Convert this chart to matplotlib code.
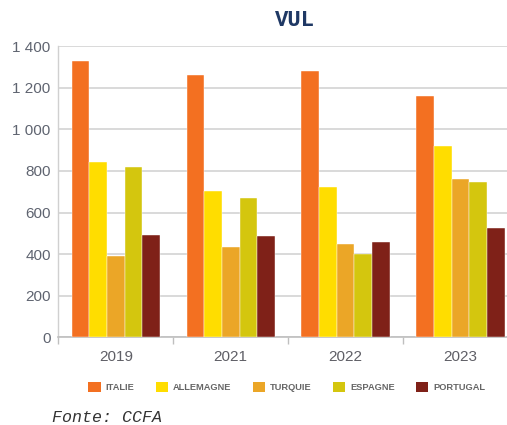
import matplotlib
matplotlib.use("Agg")
import matplotlib.pyplot as plt
from matplotlib.ticker import FuncFormatter, FixedLocator
from matplotlib.patches import Patch

years = ["2019", "2021", "2022", "2023"]
countries = ["ITALIE", "ALLEMAGNE", "TURQUIE", "ESPAGNE", "PORTUGAL"]
italie = [1328, 1263, 1282, 1159]
allemagne = [844, 703, 724, 918]
turquie = [392, 433, 449, 760]
espagne = [819, 668, 399, 747]
portugal = [492, 489, 457, 527]
series = [italie, allemagne, turquie, espagne, portugal]
colors = ["#F37021", "#FFDD00", "#EBA627", "#D4C60E", "#7F2118"]
yticks = [0, 200, 400, 600, 800, 1000, 1200, 1400]

fig = plt.figure(figsize=(5.07, 4.25), dpi=100)
ax = fig.add_axes([58.3/507, 87.7/425, 459.7/507, 291.2/425])

n = len(series)
group = 0.768
w = group / n
for i, (vals, c) in enumerate(zip(series, colors)):
    xs = [k - group/2 + w*(i+0.5) for k in range(len(years))]
    ax.bar(xs, vals, width=w, color=c, edgecolor="#FFFFFF", linewidth=0.3, zorder=3,
           label=countries[i])

ax.set_xlim(-0.5, len(years) - 0.5)
ax.set_ylim(0, 1400)
ax.set_yticks(yticks)
ax.yaxis.set_major_formatter(FuncFormatter(lambda v, p: f"{int(v):,}".replace(",", " ")))
ax.set_xticks(range(len(years)))
ax.set_xticklabels(years)
ax.xaxis.set_minor_locator(FixedLocator([k - 0.5 for k in range(len(years) + 1)]))
ax.tick_params(axis="x", which="major", length=0, pad=9, labelsize=11, labelcolor="#5F5F66")
ax.tick_params(axis="x", which="minor", length=5, color="#BFBFBF", width=1)
ax.tick_params(axis="y", length=0, pad=5.5, labelsize=11, labelcolor="#5F6470")
for lab in ax.get_xticklabels() + ax.get_yticklabels():
    lab.set_family("Liberation Sans")

ax.grid(axis="y", color="#D9D9D9", linewidth=1.4, zorder=0)
for s in ["top", "right"]:
    ax.spines[s].set_visible(False)
ax.spines["left"].set_color("#D0D0D0")
ax.spines["bottom"].set_color("#BFBFBF")
ax.spines["left"].set_linewidth(1)
ax.spines["bottom"].set_linewidth(1.2)

fig.text(295/507, 1 - 21/425, "VUL", ha="center", va="center", fontsize=16,
         fontweight="bold", family="Liberation Mono", color="#1F3864")

handles = [Patch(facecolor=c, edgecolor="none") for c in colors]
leg = fig.legend(handles, countries, loc="center", bbox_to_anchor=(287/507, 1 - 387/425),
                 ncol=5, frameon=False, handlelength=1.3, handleheight=1.3,
                 handletextpad=0.55, columnspacing=2.3, borderpad=0,
                 prop={"size": 6.7, "family": "Liberation Sans"})
for t in leg.get_texts():
    t.set_color("#666666")
    t.set_fontweight("bold")

fig.text(52/507, 1 - 418/425, "Fonte: CCFA", ha="left", va="center", fontsize=12,
         style="italic", family="Liberation Mono", color="#333333")

fig.savefig("out.png", dpi=100)
